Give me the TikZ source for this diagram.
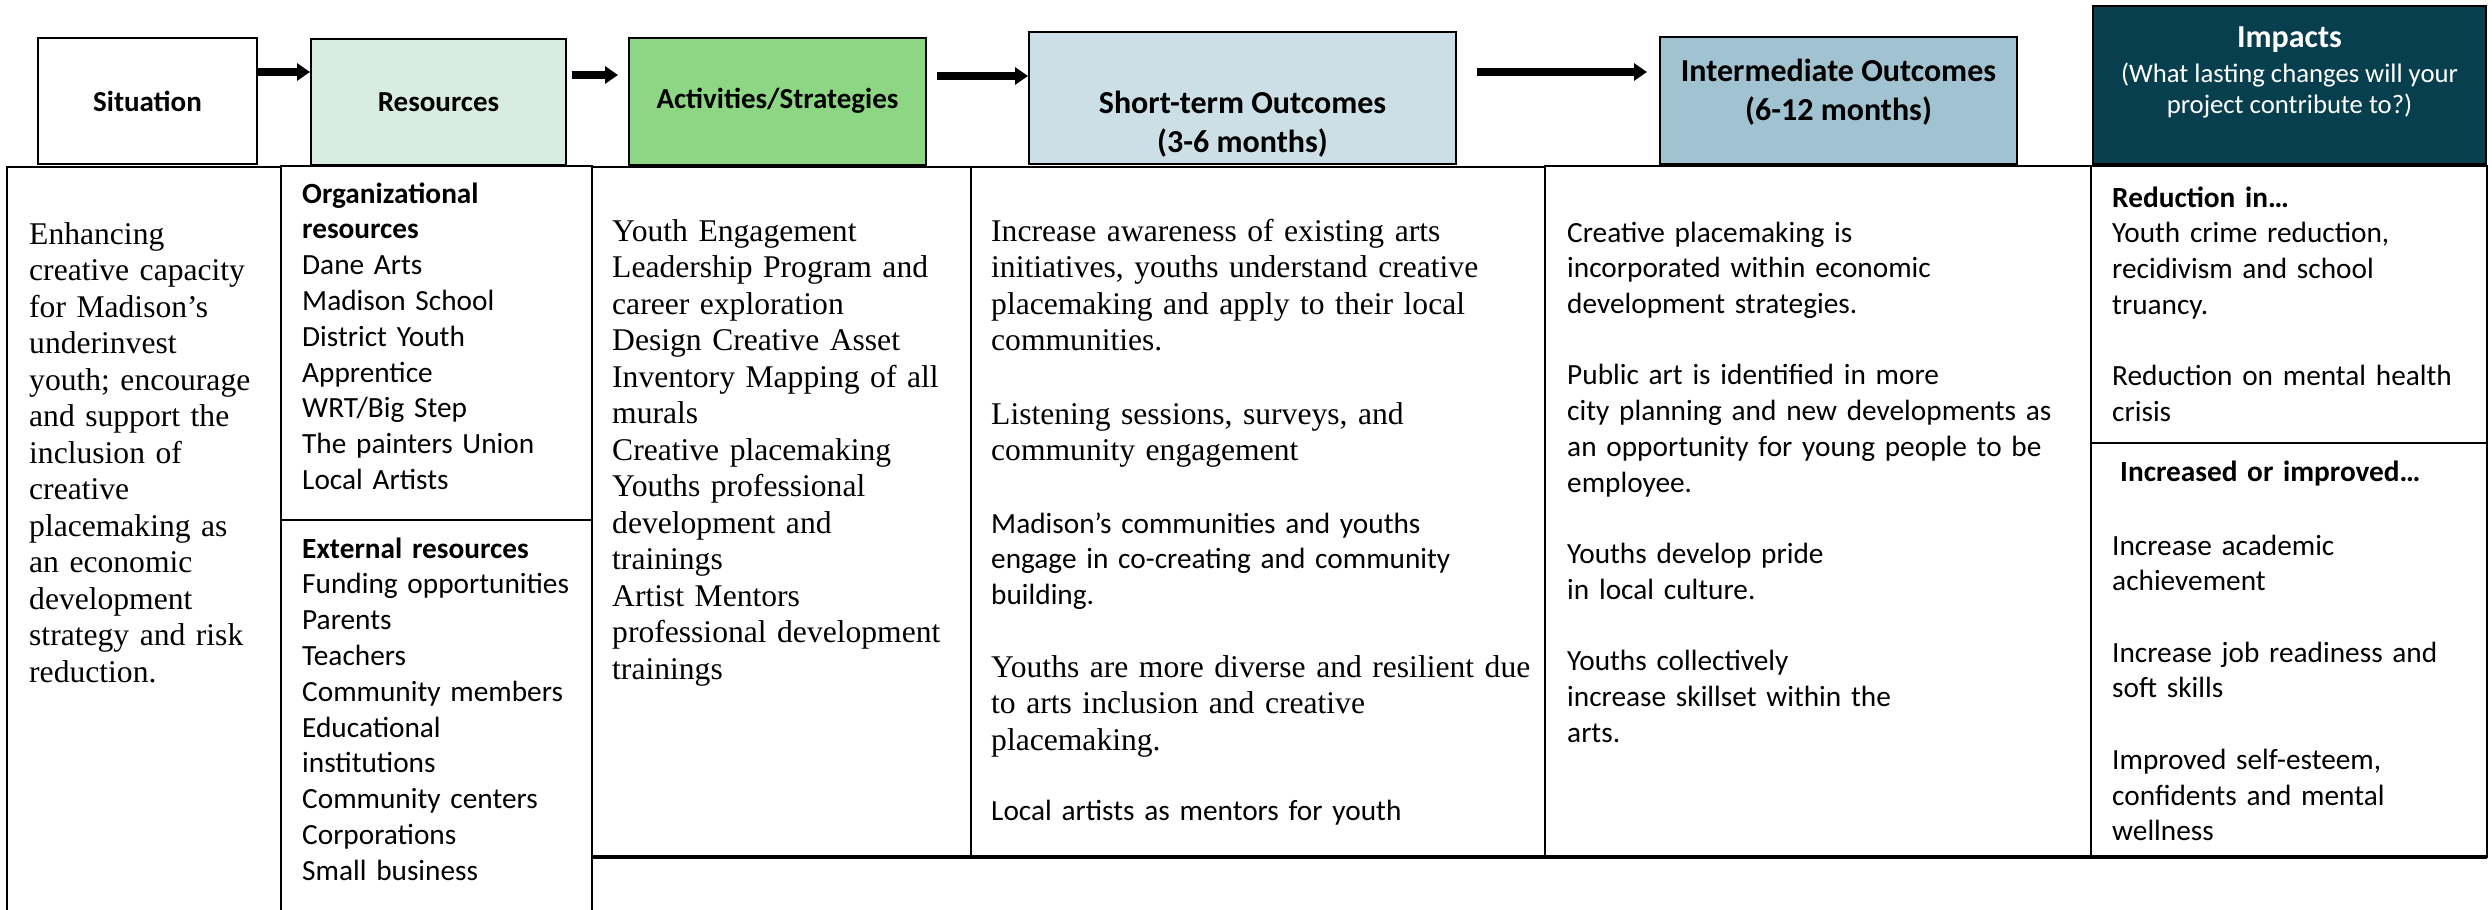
\documentclass[tikz,border=0pt]{standalone}
\usepackage{fontspec}
\usepackage{xcolor}
\setmainfont{Carlito}
\newfontfamily\timesFont{Liberation Serif}
\usetikzlibrary{arrows.meta, calc}
\definecolor{themeMint}{RGB}{217, 236, 226}
\definecolor{themeGreen}{RGB}{141, 215, 132}
\definecolor{themeIce}{RGB}{204, 223, 230}
\definecolor{themeSteel}{RGB}{161, 195, 209}
\definecolor{themeTeal}{RGB}{8, 63, 79}

\begin{document}
\begin{tikzpicture} [
        x=1pt, y=-1pt,
        head/.style={draw, line width=2pt, inner sep=0pt, font=\bfseries\fontsize{29}{35}\selectfont},
        flow/.style={-{Triangle[length=13pt, width=17pt]}, line width=8pt},
        cell/.style={line width=2.5pt},
        cal/.style={anchor=base west, align=left, text width=700pt, inner sep=0pt, font=\fontsize{29.3}{35.8}\selectfont},
        tnr/.style={anchor=base west, align=left, text width=700pt, inner sep=0pt, font=\timesFont\fontsize{31.6}{36.5}\selectfont},
        big/.style={anchor=base, align=center, inner sep=0pt, font=\bfseries\fontsize{32}{39}\selectfont}
    ]
        \useasboundingbox (0, 0) rectangle (2492, 910);

        % CELLS
        \draw[cell] (7, 910) -- (7, 167) -- (281, 167) -- (281, 910);
        \draw[cell] (281, 166) rectangle (592, 520);
        \draw[cell] (592, 520) -- (592, 910);
        \draw[cell] (592, 167) rectangle (971, 857);
        \draw[cell] (971, 167) rectangle (1545, 857);
        \draw[cell] (1545, 166) rectangle (2091, 857);
        \draw[cell] (2091, 166) rectangle (2487, 443);
        \draw[cell] (2091, 443) rectangle (2487, 857);
        \draw[line width=4pt] (592, 857) -- (2487, 857);

        % HEADS
        \node[head, minimum width=219, minimum height=126] (sit) at (147.5, 101) {Situation};
        \node[head, fill=themeMint, minimum width=255, minimum height=126] (res) at (438.5, 102) {Resources};
        \node[head, fill=themeGreen, minimum width=297, minimum height=127] (act) at (777.5, 101) {Activities/Strategies};
        \node[head, fill=themeIce, minimum width=427, minimum height=132] (st) at (1242.5, 98) {};
        \node[big] (stTitle) at (1242.5, 152) {Short-term Outcomes\\(3-6 months)};
        \node[head, fill=themeSteel, minimum width=357, minimum height=127] (int) at (1838.5, 100.5) {};
        \node[big] (intTitle) at (1838.5, 120) {Intermediate Outcomes\\(6-12 months)};
        \node[head, fill=themeTeal, minimum width=393, minimum height=158] (imp) at (2289.5, 85) {};
        \node[big, text=white] (impTitle) at (2289.5, 47) {Impacts};
        \node[big, text=white, font=\fontsize{26.7}{30.5}\selectfont] (impAsk) at (2289.5, 113) {(What lasting changes will your\\project contribute to?)};

        % ARROWS
        \foreach \src/\dst/\rise/\gapa/\gapb in {sit/res/29/0/0, res/act/27/5/10, act/st/25/10/0, st/int/26/20/12} {
            \draw[flow] ($(\src.east) + (\gapa, -\rise)$) -- ($(\src.east -| \dst.west) + (-\gapb, -\rise)$);
        }

        % COLUMN: Situation
        \node[tnr] (sitText) at (29, 244) {Enhancing\\creative capacity\\for Madison’s\\underinvest\\youth; encourage\\and support the\\inclusion of\\creative\\placemaking as\\an economic\\development\\strategy and risk\\reduction.};

        % COLUMN: Resources
        \node[cal] (resOrg) at (302, 203) {\textbf{Organizational}\\\textbf{resources}\\Dane Arts\\Madison School\\District Youth\\Apprentice\\WRT/Big Step\\The painters Union\\Local Artists};
        \node[cal] (resExt) at (302, 558) {\textbf{External resources}\\Funding opportunities\\Parents\\Teachers\\Community members\\Educational\\institutions\\Community centers\\Corporations\\Small business};

        % COLUMN: Activities/Strategies
        \node[tnr] (actText) at (612, 241) {Youth Engagement\\Leadership Program and\\career exploration\\Design Creative Asset\\Inventory Mapping of all\\murals\\Creative placemaking\\Youths professional\\development and\\trainings\\Artist Mentors\\professional development\\trainings};

        % COLUMN: Short-term Outcomes
        \node[tnr] (stAware) at (991, 241) {Increase awareness of existing arts\\initiatives, youths understand creative\\placemaking and apply to their local\\communities.};
        \node[tnr] (stListen) at (991, 424) {Listening sessions, surveys, and\\community engagement};
        \node[cal] (stEngage) at (991, 533) {Madison’s communities and youths\\engage in co-creating and community\\building.};
        \node[tnr] (stDiverse) at (991, 677) {Youths are more diverse and resilient due\\to arts inclusion and creative\\placemaking.};
        \node[cal] (stMentor) at (991, 820) {Local artists as mentors for youth};

        % COLUMN: Intermediate Outcomes
        \node[cal] (intText) at (1567, 242) {Creative placemaking is\\incorporated within economic\\development strategies.\\[35.5pt]Public art is identified in more\\city planning and new developments as\\an opportunity for young people to be\\employee.\\[35.5pt]Youths develop pride\\in local culture.\\[35.5pt]Youths collectively\\increase skillset within the\\arts.};

        % COLUMN: Impacts
        \node[cal] (impRed) at (2112, 207) {\textbf{Reduction in…}\\Youth crime reduction,\\recidivism and school\\truancy.\\[35.5pt]Reduction on mental health\\crisis};
        \node[cal] (impIncHead) at (2120, 481) {\textbf{Increased or improved…}};
        \node[cal] (impInc) at (2112, 555) {Increase academic\\achievement\\[35.5pt]Increase job readiness and\\soft skills\\[35.5pt]Improved self-esteem,\\confidents and mental\\wellness};
\end{tikzpicture}
\end{document}
